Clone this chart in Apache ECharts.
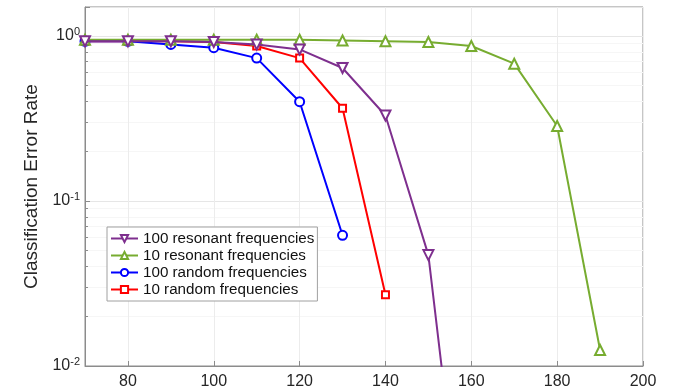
<!DOCTYPE html>
<html>
<head>
<meta charset="utf-8">
<script src="https://cdn.jsdelivr.net/npm/echarts@6/dist/echarts.min.js"></script>
<style>
  html, body { margin: 0; padding: 0; background: #fff; }
  #chart { width: 675px; height: 392px; }
</style>
</head>
<body>
<div id="chart"></div>
<script>
// x positions shared by all series
const xValues = [70, 80, 90, 100, 110, 120, 130, 140, 150, 160, 170, 180, 190];

const resonant100 = [0.93, 0.93, 0.93, 0.92, 0.89, 0.83, 0.64, 0.33, 0.047, 0.0003];
const resonant10 = [0.95, 0.95, 0.95, 0.95, 0.95, 0.95, 0.94, 0.93, 0.92, 0.87, 0.68, 0.285, 0.0125];
const random100 = [0.93, 0.93, 0.89, 0.85, 0.735, 0.40, 0.062];
const random10 = [0.93, 0.93, 0.93, 0.92, 0.87, 0.735, 0.365, 0.027];

const seriesNames = [
  '100 resonant frequencies',
  '10 resonant frequencies',
  '100 random frequencies',
  '10 random frequencies'
];

const pairs = (ys) => ys.map((y, i) => [xValues[i], y]);

const chart = echarts.init(document.getElementById('chart'));

const lineSeries = (name, data, color, symbol, size, z, rotate) => ({
  name,
  type: 'line',
  data: pairs(data),
  symbol,
  symbolSize: size,
  symbolRotate: rotate || 0,
  showAllSymbol: true,
  clip: true,
  z,
  lineStyle: { color, width: 2 },
  itemStyle: { color, borderWidth: 1.5 }
});

const option = {
  animation: false,
  textStyle: { fontFamily: 'Liberation Sans' },
  grid: {
    left: 85,
    right: 32,
    top: 7,
    bottom: 26,
    show: true,
    borderColor: '#8c8c8c',
    borderWidth: 1
  },
  legend: {
    orient: 'vertical',
    left: 107,
    top: 227,
    data: seriesNames,
    backgroundColor: '#fff',
    borderColor: '#a0a0a0',
    borderWidth: 1,
    padding: [4, 3, 4, 3],
    itemGap: 2,
    itemWidth: 27,
    itemHeight: 9,
    textStyle: { fontSize: 15.2, color: '#111', fontFamily: 'Liberation Sans' }
  },
  xAxis: {
    type: 'value',
    min: 70,
    max: 200,
    splitNumber: 6,
    axisLine: { show: true, lineStyle: { color: '#8c8c8c' } },
    axisTick: { show: true, inside: true, length: 5, lineStyle: { color: '#8c8c8c' } },
    axisLabel: { showMinLabel: false, fontSize: 16, color: '#262626', margin: 8 },
    splitLine: { show: true, lineStyle: { color: '#ececec' } }
  },
  yAxis: {
    type: 'log',
    logBase: 10,
    min: 0.01,
    max: 1.5,
    name: 'Classification Error Rate',
    nameLocation: 'middle',
    nameGap: 42,
    nameTextStyle: { fontSize: 19, color: '#262626' },
    axisLine: { show: true, lineStyle: { color: '#8c8c8c' } },
    axisTick: { show: true, inside: true, length: 5, lineStyle: { color: '#8c8c8c' } },
    minorTick: { show: true, splitNumber: 9, length: 3, lineStyle: { color: '#8c8c8c' } },
    minorSplitLine: { show: true, lineStyle: { color: '#f6f6f6' } },
    splitLine: { show: true, lineStyle: { color: '#e6e6e6' } },
    axisLabel: {
      fontSize: 16,
      color: '#262626',
      margin: 5,
      showMaxLabel: false,
      formatter: (v) => {
        const e = Math.round(Math.log10(v));
        if (Math.abs(Math.log10(v) - e) > 1e-6) return '';
        return '10{sup|' + e + '}';
      },
      rich: {
        sup: { fontSize: 11, verticalAlign: 'top', padding: [0, 0, 9, 0], color: '#262626' }
      }
    }
  },
  series: [
    lineSeries(seriesNames[0], resonant100, '#7E2F8E', 'emptyTriangle', 10, 5, 180),
    lineSeries(seriesNames[1], resonant10, '#77AC30', 'emptyTriangle', 10, 4),
    lineSeries(seriesNames[2], random100, '#0000FF', 'emptyCircle', 9, 3),
    lineSeries(seriesNames[3], random10, '#FF0000', 'emptyRect', 7, 2)
  ]
};

chart.setOption(option);
</script>
</body>
</html>
